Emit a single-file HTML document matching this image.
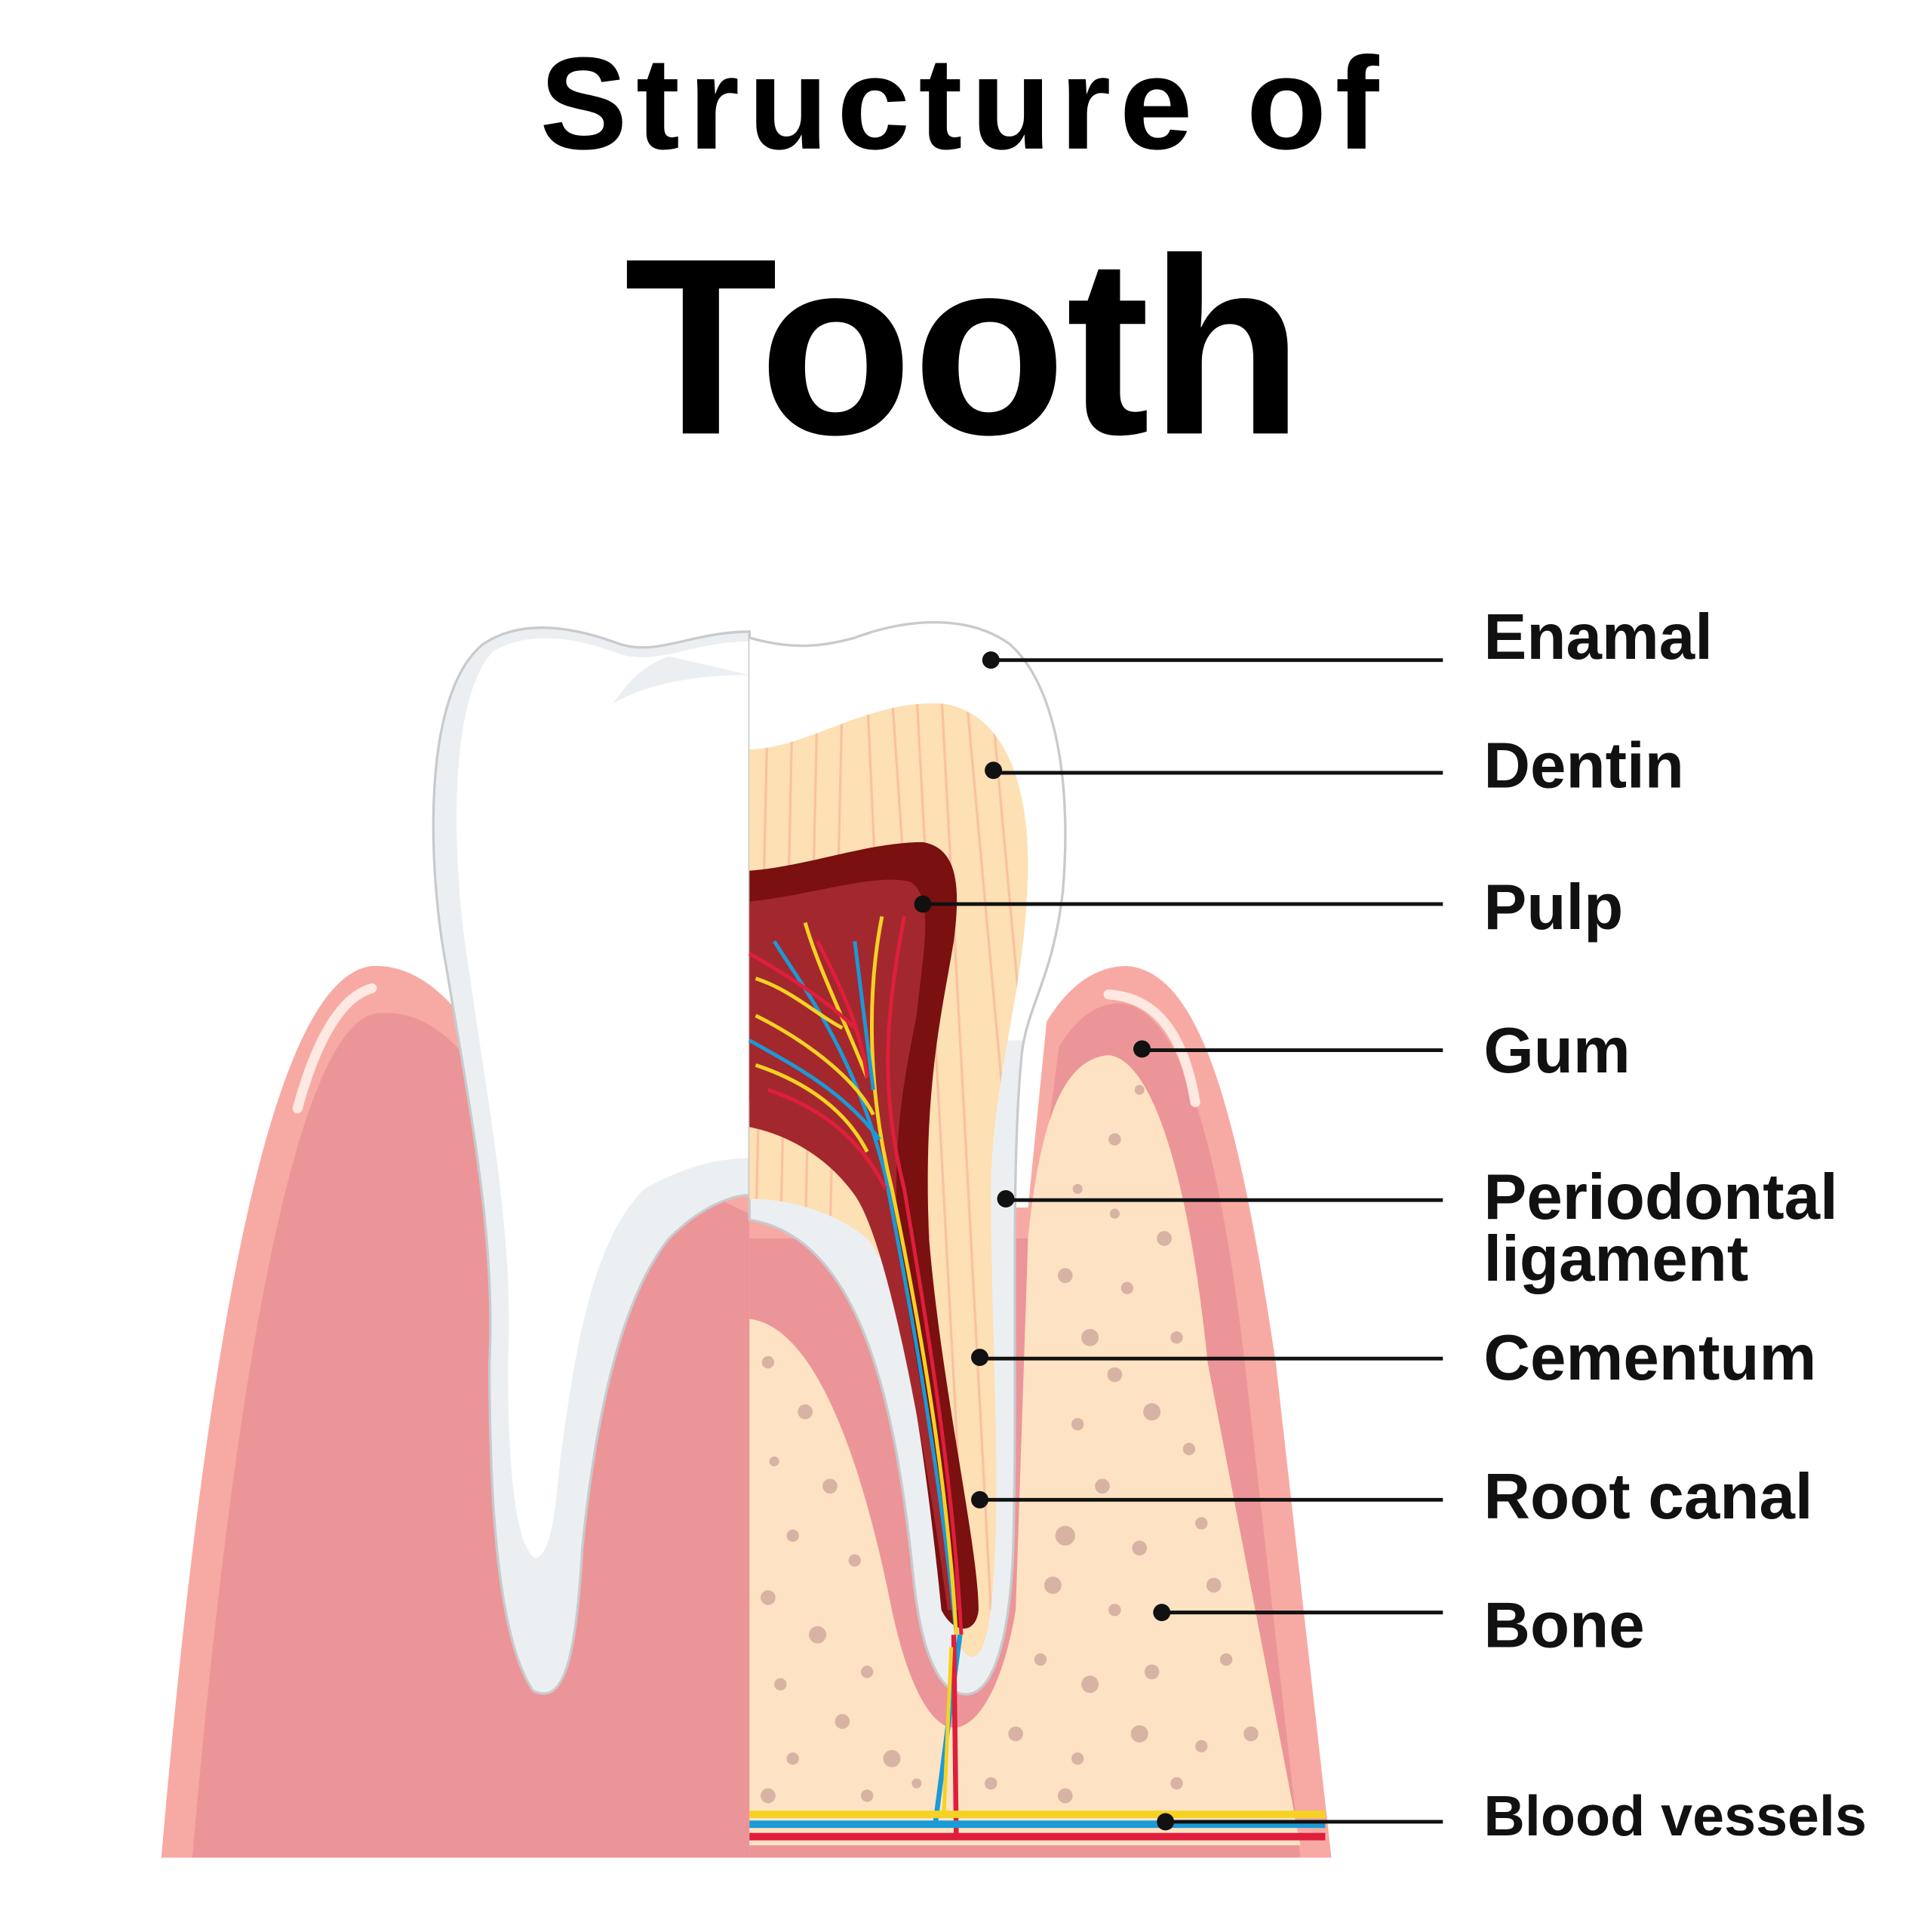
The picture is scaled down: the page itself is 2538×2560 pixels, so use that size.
<!DOCTYPE html>
<html><head><meta charset="utf-8"><style>
html,body{margin:0;padding:0;background:#fff;}
svg{display:block;}
</style></head><body>
<svg width="2538" height="2560" viewBox="0 0 1546 1560" xmlns="http://www.w3.org/2000/svg">
<defs>
<clipPath id="dc"><path d="M605,605 C650,605 700,565 760,568 C810,575 830,630 830,700 C828,800 805,850 800,950 C800,1100 810,1200 800,1300 C795,1340 785,1345 775,1330 C760,1200 740,1050 700,1000 C670,975 630,968 605,968 Z"/></clipPath>
</defs>
<rect width="1546" height="1560" fill="#fff"/>
<text x="778" y="120" text-anchor="middle" font-family="Liberation Sans, sans-serif" font-weight="bold" font-size="106" letter-spacing="7">Structure of</text>
<text x="778" y="350" text-anchor="middle" font-family="Liberation Sans, sans-serif" font-weight="bold" font-size="203">Tooth</text>

<!-- left gum -->
<path d="M130,1500 C160,1150 210,790 300,780 C350,778 380,830 400,860 L605,950 L605,1500Z" fill="#f7aaa3"/>
<path d="M155,1500 C185,1150 235,825 305,818 C350,815 375,850 395,880 L605,980 L605,1500Z" fill="#ec9598"/>
<path d="M240,895 C255,840 275,805 300,798" stroke="#fde8e2" stroke-width="8" fill="none" stroke-linecap="round"/>
<!-- left tooth -->
<path d="M605,510 C560,510 530,530 500,520 C460,505 420,500 390,520 C340,560 345,700 360,780 C380,900 400,1000 395,1100 C395,1200 400,1320 430,1365 C455,1378 465,1340 470,1250 C480,1150 500,1050 540,1000 C565,975 590,965 605,965 Z" fill="#eceff2" stroke="#c8cacd" stroke-width="2"/>
<path d="M605,518 C560,518 530,538 500,528 C460,513 425,510 398,526 C360,566 365,700 378,780 C395,900 415,1000 410,1100 C410,1200 418,1250 432,1258 C445,1255 448,1220 452,1180 C465,1080 480,1000 520,960 C555,940 585,935 605,935 Z" fill="#fff"/>
<path d="M605,545 C570,545 525,550 495,568 C510,545 525,535 540,530" fill="#eceff2"/>

<!-- right gum -->
<path d="M605,975 L830,975 L845,825 C865,792 888,780 910,780 C970,785 1000,900 1030,1100 L1075,1500 L605,1500 Z" fill="#f7aaa3"/>
<path d="M605,1000 L835,1000 L855,845 C872,818 888,810 905,810 C955,815 985,930 1005,1100 L1050,1500 L605,1500 Z" fill="#ec9598"/>
<path d="M895,803 C930,805 955,830 965,890" stroke="#fde8e2" stroke-width="8" fill="none" stroke-linecap="round"/>
<!-- bone -->
<path d="M830,1000 C840,900 860,855 895,852 C930,855 960,950 975,1100 L1050,1490 L605,1490 L605,1065 C650,1070 690,1150 720,1300 C735,1370 755,1395 770,1395 C790,1395 810,1360 820,1300 Z" fill="#fde3c3"/>
<g fill="#d8b3a3">
<circle cx="880" cy="1080" r="7"/><circle cx="900" cy="920" r="5"/><circle cx="870" cy="960" r="4"/><circle cx="940" cy="1000" r="6"/><circle cx="910" cy="1040" r="5"/><circle cx="860" cy="1030" r="6"/><circle cx="950" cy="1080" r="5"/><circle cx="900" cy="1110" r="6"/><circle cx="870" cy="1150" r="5"/><circle cx="930" cy="1140" r="7"/><circle cx="960" cy="1170" r="5"/><circle cx="890" cy="1200" r="6"/><circle cx="860" cy="1240" r="8"/><circle cx="920" cy="1250" r="6"/><circle cx="970" cy="1230" r="5"/><circle cx="850" cy="1280" r="7"/><circle cx="900" cy="1300" r="5"/><circle cx="980" cy="1280" r="6"/><circle cx="840" cy="1340" r="5"/><circle cx="880" cy="1360" r="7"/><circle cx="930" cy="1350" r="6"/><circle cx="990" cy="1340" r="5"/><circle cx="820" cy="1400" r="6"/><circle cx="870" cy="1420" r="5"/><circle cx="920" cy="1400" r="7"/><circle cx="970" cy="1410" r="5"/><circle cx="1010" cy="1400" r="6"/><circle cx="800" cy="1440" r="5"/><circle cx="860" cy="1450" r="6"/><circle cx="950" cy="1440" r="5"/><circle cx="620" cy="1100" r="5"/><circle cx="650" cy="1140" r="6"/><circle cx="625" cy="1180" r="4"/><circle cx="670" cy="1200" r="6"/><circle cx="640" cy="1240" r="5"/><circle cx="690" cy="1260" r="5"/><circle cx="620" cy="1290" r="6"/><circle cx="660" cy="1320" r="7"/><circle cx="700" cy="1350" r="5"/><circle cx="630" cy="1360" r="5"/><circle cx="680" cy="1390" r="6"/><circle cx="720" cy="1420" r="7"/><circle cx="640" cy="1420" r="5"/><circle cx="700" cy="1450" r="5"/><circle cx="620" cy="1450" r="6"/><circle cx="740" cy="1440" r="4"/><circle cx="900" cy="980" r="4"/><circle cx="920" cy="880" r="4"/>
</g>
<!-- right tooth -->
<path d="M605,515 C640,525 665,522 690,515 C730,500 780,495 815,520 C855,555 865,640 858,720 C850,790 830,810 825,850 C815,950 822,1100 818,1250 C815,1330 800,1368 780,1368 C760,1368 745,1340 738,1280 C725,1150 700,1000 605,985 Z" fill="#eceff2" stroke="#c8cacd" stroke-width="2"/>
<path d="M605,515 C640,525 665,522 690,515 C730,500 780,495 815,520 C855,555 865,640 858,720 C850,790 832,812 826,840 L605,840 Z" fill="#fff"/>
<path d="M605,515 C640,525 665,522 690,515 C730,500 780,495 815,520 C855,555 865,640 858,720 C850,790 830,810 825,850" fill="none" stroke="#c8cacd" stroke-width="2"/>
<path d="M605,605 C650,605 700,565 760,568 C810,575 830,630 830,700 C828,800 805,850 800,950 C800,1100 810,1200 800,1300 C795,1340 785,1345 775,1330 C760,1200 740,1050 700,1000 C670,975 630,968 605,968 Z" fill="#fde0b3"/>
<g clip-path="url(#dc)" stroke="#f8c2a3" stroke-width="2">
<path d="M620,560 L610,1000 M640,560 L630,1000 M660,560 L650,1000 M680,560 L670,1000 M700,560 L720,1000 M720,560 L750,1000 M740,560 L780,1300 M760,560 L800,1300 M780,560 L820,1000 M800,560 L840,1000 M820,560 L850,900"/>
</g>
<!-- pulp -->
<path d="M605,703 C650,700 700,680 745,680 C775,685 775,720 770,760 C760,820 745,880 750,1000 C760,1120 790,1250 790,1300 C788,1320 770,1320 760,1300 C745,1150 720,1000 690,950 C660,910 630,895 605,890 Z" fill="#7a1010"/>
<path d="M605,728 C660,722 705,705 735,712 C755,725 745,770 740,820 C730,870 720,920 725,1000 C740,1120 770,1250 775,1300 L765,1300 C745,1150 715,1000 690,965 C665,930 630,915 605,910 Z" fill="#a3282e"/>
<g fill="none" stroke-width="3">
<path d="M625,760 C650,800 690,850 715,950 C740,1080 760,1200 772,1320" stroke="#1a9ad6"/>
<path d="M712,740 C700,800 700,880 720,960 C745,1080 765,1200 772,1320" stroke="#f5d223"/>
<path d="M730,740 C715,820 710,880 730,960 C750,1080 770,1200 776,1320" stroke="#e01e3c"/>
<path d="M610,820 C650,840 690,870 705,900 M650,745 C660,780 680,820 700,870 M610,790 C640,800 660,820 680,830 M610,860 C640,870 680,890 700,930" stroke="#f5d223"/>
<path d="M605,770 C640,790 670,810 690,830 M660,760 C680,800 695,830 700,870 M620,880 C650,890 690,910 715,960" stroke="#e01e3c"/>
<path d="M605,840 C640,860 680,880 710,920 M690,760 C695,800 700,840 705,880" stroke="#1a9ad6"/>
</g>
<!-- blood vessels -->
<path d="M775,1320 L755,1473" stroke="#1a9ad6" stroke-width="4"/>
<path d="M770,1320 L772,1483" stroke="#e01e3c" stroke-width="4"/>
<path d="M768,1330 L762,1465" stroke="#f5d223" stroke-width="3"/>
<rect x="605" y="1462" width="465" height="6" fill="#f5d223"/>
<rect x="605" y="1470" width="465" height="6" fill="#1a9ad6"/>
<rect x="605" y="1480" width="465" height="6" fill="#e01e3c"/>

<!-- leaders -->
<g stroke="#111" stroke-width="3">
<line x1="800" y1="533" x2="1165" y2="533"/><line x1="802" y1="624" x2="1165" y2="624"/><line x1="745" y1="730" x2="1165" y2="730"/><line x1="922" y1="848" x2="1165" y2="848"/><line x1="812" y1="969" x2="1165" y2="969"/><line x1="791" y1="1097" x2="1165" y2="1097"/><line x1="791" y1="1211" x2="1165" y2="1211"/><line x1="938" y1="1302" x2="1165" y2="1302"/><line x1="941" y1="1471" x2="1165" y2="1471"/>
</g>
<g fill="#111">
<circle cx="800" cy="533" r="7"/><circle cx="802" cy="622" r="7"/><circle cx="745" cy="730" r="7"/><circle cx="922" cy="847" r="7"/><circle cx="812" cy="968" r="7"/><circle cx="791" cy="1096" r="7"/><circle cx="791" cy="1211" r="7"/><circle cx="938" cy="1302" r="7"/><circle cx="941" cy="1471" r="7"/>
</g>
<g font-family="Liberation Sans, sans-serif" font-weight="bold" font-size="52" fill="#111">
<text x="1198" y="532">Enamal</text>
<text x="1198" y="636">Dentin</text>
<text x="1198" y="750">Pulp</text>
<text x="1198" y="866">Gum</text>
<text x="1198" y="984">Periodontal</text>
<text x="1198" y="1034">ligament</text>
<text x="1198" y="1114">Cementum</text>
<text x="1198" y="1226">Root canal</text>
<text x="1198" y="1330">Bone</text>
<text x="1198" y="1482" font-size="46">Blood vessels</text>
</g>
</svg>
</body></html>
